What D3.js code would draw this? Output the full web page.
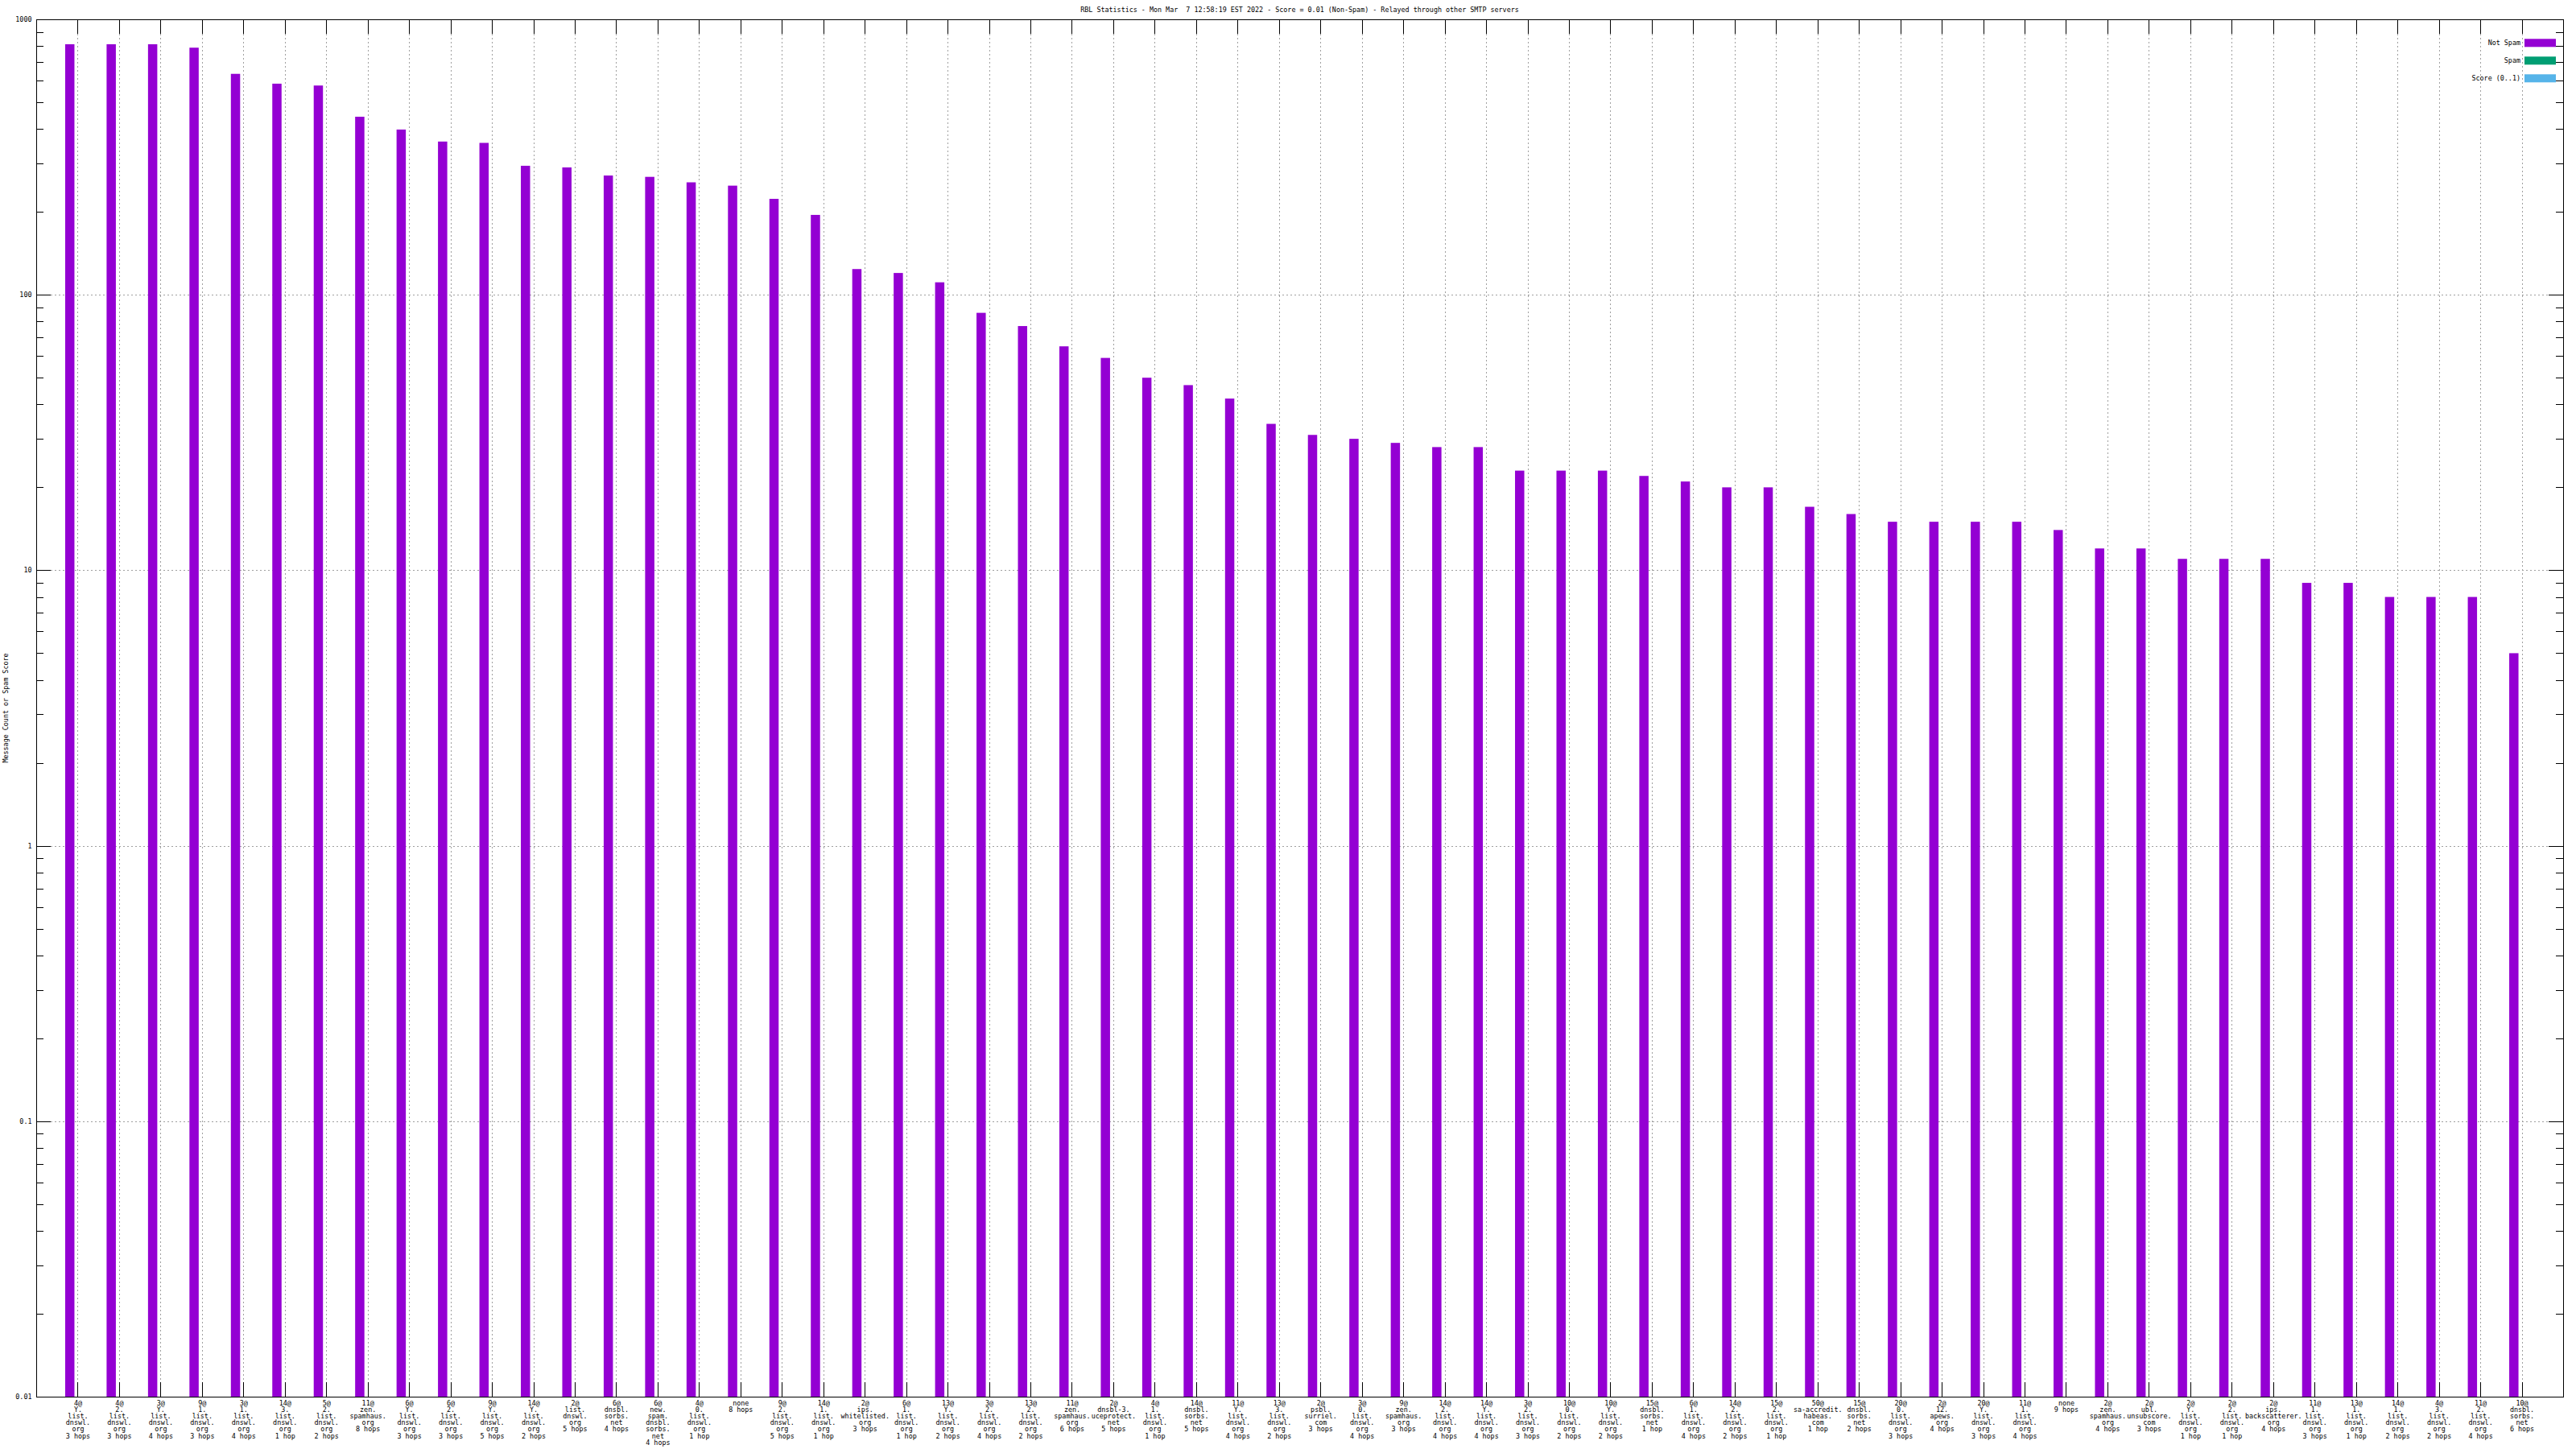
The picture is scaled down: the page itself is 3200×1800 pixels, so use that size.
<!DOCTYPE html>
<html><head><meta charset="utf-8">
<script src="https://cdn.jsdelivr.net/npm/d3@7"></script>
<style>html,body{margin:0;padding:0;background:#fff;} svg{display:block;} text{white-space:pre;}</style>
</head><body>
<script>
const title = "RBL Statistics - Mon Mar  7 12:58:19 EST 2022 - Score = 0.01 (Non-Spam) - Relayed through other SMTP servers";
const yLabel = "Message Count or Spam Score";
const categories = [
 "4@|Y.|list.|dnswl.|org|3 hops","4@|2.|list.|dnswl.|org|3 hops","3@|Y.|list.|dnswl.|org|4 hops","9@|1.|list.|dnswl.|org|3 hops",
 "3@|1.|list.|dnswl.|org|4 hops","14@|3.|list.|dnswl.|org|1 hop","5@|2.|list.|dnswl.|org|2 hops","11@|zen.|spamhaus.|org|8 hops",
 "6@|Y.|list.|dnswl.|org|3 hops","6@|2.|list.|dnswl.|org|3 hops","9@|Y.|list.|dnswl.|org|5 hops","14@|Y.|list.|dnswl.|org|2 hops",
 "2@|list.|dnswl.|org|5 hops","6@|dnsbl.|sorbs.|net|4 hops","6@|new.|spam.|dnsbl.|sorbs.|net|4 hops","4@|0.|list.|dnswl.|org|1 hop",
 "none|8 hops","9@|2.|list.|dnswl.|org|5 hops","14@|1.|list.|dnswl.|org|1 hop","2@|ips.|whitelisted.|org|3 hops",
 "6@|1.|list.|dnswl.|org|1 hop","13@|Y.|list.|dnswl.|org|2 hops","3@|2.|list.|dnswl.|org|4 hops","13@|2.|list.|dnswl.|org|2 hops",
 "11@|zen.|spamhaus.|org|6 hops","2@|dnsbl-3.|uceprotect.|net|5 hops","4@|1.|list.|dnswl.|org|1 hop","14@|dnsbl.|sorbs.|net|5 hops",
 "11@|Y.|list.|dnswl.|org|4 hops","13@|3.|list.|dnswl.|org|2 hops","2@|psbl.|surriel.|com|3 hops","3@|0.|list.|dnswl.|org|4 hops",
 "9@|zen.|spamhaus.|org|3 hops","14@|2.|list.|dnswl.|org|4 hops","14@|Y.|list.|dnswl.|org|4 hops","3@|2.|list.|dnswl.|org|3 hops",
 "10@|0.|list.|dnswl.|org|2 hops","10@|Y.|list.|dnswl.|org|2 hops","15@|dnsbl.|sorbs.|net|1 hop","6@|1.|list.|dnswl.|org|4 hops",
 "14@|2.|list.|dnswl.|org|2 hops","15@|2.|list.|dnswl.|org|1 hop","50@|sa-accredit.|habeas.|com|1 hop","15@|dnsbl.|sorbs.|net|2 hops",
 "20@|0.|list.|dnswl.|org|3 hops","2@|12.|apews.|org|4 hops","20@|Y.|list.|dnswl.|org|3 hops","11@|1.|list.|dnswl.|org|4 hops",
 "none|9 hops","2@|zen.|spamhaus.|org|4 hops","2@|ubl.|unsubscore.|com|3 hops","2@|Y.|list.|dnswl.|org|1 hop",
 "2@|2.|list.|dnswl.|org|1 hop","2@|ips.|backscatterer.|org|4 hops","11@|1.|list.|dnswl.|org|3 hops","13@|1.|list.|dnswl.|org|1 hop",
 "14@|1.|list.|dnswl.|org|2 hops","4@|3.|list.|dnswl.|org|2 hops","11@|2.|list.|dnswl.|org|4 hops","10@|dnsbl.|sorbs.|net|6 hops"
];
const notSpam = [812,812,812,789,634,584,575,443,398,360,356,294,290,271,268,256,249,223,195,124,120,111,86,77,65,59,50,47,42,34,31,30,29,28,28,23,23,23,22,21,20,20,17,16,15,15,15,15,14,12,12,11,11,11,9,9,8,8,8,5];
const spam = categories.map(() => 0);
const score = categories.map(() => 0.01);
const seriesNames = ["Not Spam","Spam","Score (0..1)"];
const seriesColors = ["#9400d3","#009e73","#56b4e9"];
const yTickValues = [0.01,0.1,1,10,100,1000];
const yTickLabels = ["0.01","0.1","1","10","100","1000"];

const W = 3200, H = 1800;
const L = 45, R = 3184, T = 24, B = 1735;
const font = "'DejaVu Sans Mono', monospace";
const fs = 8.4;

const svg = d3.select("body").append("svg").attr("width", W).attr("height", H)
  .style("font-family", font).style("font-size", fs + "px");
svg.append("rect").attr("width", W).attr("height", H).attr("fill", "#fff");

const x = d3.scaleLinear().domain([0, categories.length + 1]).range([L, R]);
const y = d3.scaleLog().domain([0.01, 1000]).range([B, T]);

const grid = svg.append("g").attr("stroke", "#a0a0a0").attr("stroke-width", 1).attr("stroke-dasharray", "2,3").attr("shape-rendering","crispEdges");
categories.forEach((c, i) => {
  const xx = Math.round(x(i + 1)) + 0.5;
  grid.append("line").attr("x1", xx).attr("x2", xx).attr("y1", T + 18).attr("y2", B - 18);
});
yTickValues.slice(1, -1).forEach(v => {
  const yy = Math.round(y(v)) + 0.5;
  grid.append("line").attr("x1", L + 18).attr("x2", R - 18).attr("y1", yy).attr("y2", yy);
});

// bars
const bw = 11.5;
svg.append("g").selectAll("rect").data(notSpam).join("rect")
  .attr("x", (d, i) => x(i + 1) - 15.5)
  .attr("width", bw)
  .attr("y", d => y(d))
  .attr("height", d => B - y(d))
  .attr("fill", seriesColors[0]);
svg.append("g").selectAll("rect").data(spam).join("rect")
  .attr("x", (d, i) => x(i + 1) - 4)
  .attr("width", bw)
  .attr("y", d => d > 0 ? y(d) : B)
  .attr("height", d => d > 0 ? B - y(d) : 0)
  .attr("fill", seriesColors[1]);
svg.append("g").selectAll("rect").data(score).join("rect")
  .attr("x", (d, i) => x(i + 1) + 7.5)
  .attr("width", bw)
  .attr("y", d => y(Math.max(d, 0.01)))
  .attr("height", d => B - y(Math.max(d, 0.01)))
  .attr("fill", seriesColors[2]);

// axes ticks
const ax = svg.append("g").attr("stroke", "#000").attr("stroke-width", 1).attr("shape-rendering","crispEdges");
categories.forEach((c, i) => {
  const xx = Math.round(x(i + 1)) + 0.5;
  ax.append("line").attr("x1", xx).attr("x2", xx).attr("y1", B).attr("y2", B - 18);
  ax.append("line").attr("x1", xx).attr("x2", xx).attr("y1", T).attr("y2", T + 18);
});
const minorTicks = [];
for (let e = -2; e < 3; e++) for (let k = 2; k <= 9; k++) minorTicks.push(k * Math.pow(10, e));
minorTicks.forEach(v => {
  const yy = Math.round(y(v)) + 0.5;
  ax.append("line").attr("x1", L).attr("x2", L + 9).attr("y1", yy).attr("y2", yy);
  ax.append("line").attr("x1", R).attr("x2", R - 9).attr("y1", yy).attr("y2", yy);
});
yTickValues.forEach(v => {
  const yy = Math.round(y(v)) + 0.5;
  ax.append("line").attr("x1", L).attr("x2", L + 18).attr("y1", yy).attr("y2", yy);
  ax.append("line").attr("x1", R).attr("x2", R - 18).attr("y1", yy).attr("y2", yy);
});
svg.append("rect").attr("x", L + 0.5).attr("y", T + 0.5).attr("width", R - L).attr("height", B - T)
  .attr("fill", "none").attr("stroke", "#000").attr("stroke-width", 1).attr("shape-rendering","crispEdges");

// y tick labels
svg.append("g").selectAll("text").data(yTickValues).join("text")
  .attr("x", 39.5).attr("y", d => y(d)).attr("dy", "0.35em")
  .attr("text-anchor", "end").text((d, i) => yTickLabels[i]);

// x tick labels
const xl = svg.append("g").attr("text-anchor", "middle");
categories.forEach((c, i) => {
  const t = xl.append("text").attr("x", x(i + 1)).attr("y", B + 10.5);
  c.split("|").forEach((line, j) => {
    t.append("tspan").attr("x", x(i + 1) + 0.5).attr("dy", j === 0 ? 0 : 8.2).text(line);
  });
});

// title
svg.append("text").attr("x", (L + R) / 2).attr("y", 15).attr("text-anchor", "middle")
  .attr("xml:space", "preserve").style("white-space", "pre").text(title);
// y label
svg.append("text").attr("transform", `translate(9.5,${(T + B) / 2}) rotate(-90)`)
  .attr("text-anchor", "middle").text(yLabel);

// legend
const lg = svg.append("g");
seriesNames.forEach((n, i) => {
  const cy = 53.3 + 22 * i;
  lg.append("text").attr("x", 3131).attr("y", cy).attr("dy", "0.35em").attr("text-anchor", "end").text(n);
  lg.append("rect").attr("x", 3136).attr("y", cy - 5).attr("width", 39).attr("height", 10).attr("fill", seriesColors[i]);
});
</script>
</body></html>
